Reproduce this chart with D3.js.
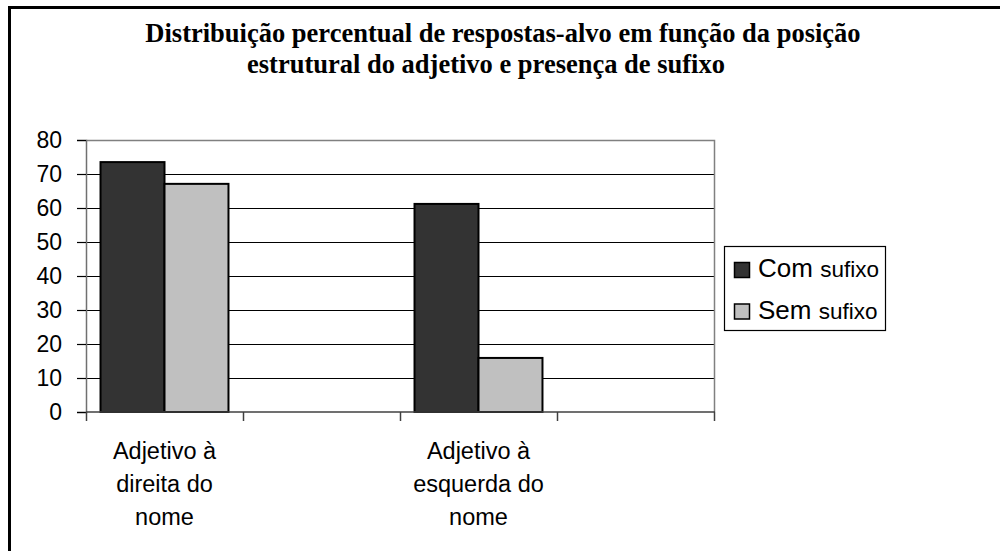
<!DOCTYPE html>
<html>
<head>
<meta charset="utf-8">
<script src="https://cdn.jsdelivr.net/npm/d3@7"></script>
<style>
  html, body { margin: 0; padding: 0; background: #fff; }
  svg { display: block; }
</style>
</head>
<body>
<svg id="chart" width="1000" height="551"></svg>
<script>
// ---- data ----
const titleLines = ["Distribuição percentual de respostas-alvo em função da posição",
                    "estrutural do adjetivo e presença de sufixo"];
const categoryLabels = [["Adjetivo à", "direita do", "nome"], [], ["Adjetivo à", "esquerda do", "nome"], []];
const seriesNames = ["Com", "Sem"];
const seriesSuffix = "sufixo";
const comSufixo = [73.5, null, 61.2, null];
const semSufixo = [67.1, null, 15.9, null];
const yTicks = [0, 10, 20, 30, 40, 50, 60, 70, 80];

const colors = ["#333333", "#c0c0c0"];
const seriesValues = [comSufixo, semSufixo];

const svg = d3.select("#chart");

// outer chart border (extends past the viewport on right/bottom)
svg.append("rect")
  .attr("x", 9.5).attr("y", 7.5)
  .attr("width", 1100).attr("height", 700)
  .attr("fill", "none").attr("stroke", "#000").attr("stroke-width", 3);

// title
const titleX = [503, 486];
svg.selectAll("text.title").data(titleLines).join("text")
  .attr("class", "title")
  .attr("x", (d, i) => titleX[i])
  .attr("y", (d, i) => 42 + i * 31)
  .attr("text-anchor", "middle")
  .attr("font-family", "'Liberation Serif', 'Times New Roman', serif")
  .attr("font-weight", "bold")
  .attr("font-size", 26.5)
  .text(d => d);

// plot geometry
const plot = { left: 86, right: 714, top: 140, bottom: 412 };

const x0 = d3.scaleBand().domain(d3.range(categoryLabels.length))
  .range([plot.left, plot.right]).paddingInner(0).paddingOuter(0);
const x1 = d3.scaleBand().domain(d3.range(seriesNames.length))
  .range([0, x0.bandwidth()]).paddingInner(0).paddingOuter(0.227);
const y = d3.scaleLinear().domain([0, 80]).range([plot.bottom, plot.top]);

// gridlines
svg.append("g").selectAll("line").data(yTicks.filter(t => t > 0 && t < 80)).join("line")
  .attr("x1", plot.left).attr("x2", plot.right)
  .attr("y1", d => y(d) + 0.5).attr("y2", d => y(d) + 0.5)
  .attr("stroke", "#000").attr("stroke-width", 1.2);

// plot area border (top & right)
svg.append("path")
  .attr("d", `M${plot.left},${plot.top + 0.5}H${plot.right + 0.5}V${plot.bottom}`)
  .attr("fill", "none").attr("stroke", "#808080").attr("stroke-width", 1.5);

// bars
const barG = svg.append("g");
seriesValues.forEach((vals, si) => {
  barG.selectAll(null).data(vals.map((v, ci) => ({ v, ci })).filter(d => d.v != null)).join("rect")
    .attr("x", d => x0(d.ci) + x1(si))
    .attr("y", d => y(d.v))
    .attr("width", x1.bandwidth())
    .attr("height", d => y(0) - y(d.v))
    .attr("fill", colors[si])
    .attr("stroke", "#000").attr("stroke-width", 2);
});

// y axis
const yAxis = svg.append("g")
  .attr("transform", `translate(${plot.left},0)`)
  .call(d3.axisLeft(y).tickValues(yTicks).tickSize(9).tickPadding(15).tickFormat(d3.format("d")));
yAxis.select(".domain").attr("stroke", "#707070").attr("stroke-width", 1.5);
yAxis.selectAll(".tick line").attr("stroke", "#000").attr("stroke-width", 1.2);
yAxis.selectAll(".tick text")
  .attr("font-family", "'Liberation Sans', Arial, sans-serif")
  .attr("font-size", 23).attr("fill", "#000");

// x axis
const xAxisG = svg.append("g").attr("transform", `translate(0,${plot.bottom})`);
xAxisG.append("line")
  .attr("x1", plot.left).attr("x2", plot.right + 1)
  .attr("stroke", "#404040").attr("stroke-width", 1.5);
const xTickPos = d3.range(categoryLabels.length).map(i => x0(i)).concat([x0(categoryLabels.length - 1) + x0.bandwidth()]);
xAxisG.selectAll("line.tk").data(xTickPos).join("line")
  .attr("class", "tk")
  .attr("x1", d => d + 0.5).attr("x2", d => d + 0.5)
  .attr("y1", 0).attr("y2", 9)
  .attr("stroke", "#404040").attr("stroke-width", 1.5);

// category labels
const catG = svg.append("g");
categoryLabels.forEach((lines, ci) => {
  const t = catG.append("text")
    .attr("x", x0(ci) + x0.bandwidth() / 2)
    .attr("y", 459)
    .attr("text-anchor", "middle")
    .attr("font-family", "'Liberation Sans', Arial, sans-serif")
    .attr("font-size", 23.5);
  lines.forEach((ln, li) => {
    t.append("tspan").attr("x", x0(ci) + x0.bandwidth() / 2)
      .attr("dy", li === 0 ? 0 : 33).text(ln);
  });
});

// legend
const lg = svg.append("g");
lg.append("rect").attr("x", 724.5).attr("y", 246.5).attr("width", 161).attr("height", 84)
  .attr("fill", "#fff").attr("stroke", "#000").attr("stroke-width", 1.2);
seriesNames.forEach((name, i) => {
  const yy = 262 + i * 41.5;
  lg.append("rect").attr("x", 734.5).attr("y", yy + 0.5).attr("width", 15).attr("height", 15)
    .attr("fill", colors[i]).attr("stroke", "#000").attr("stroke-width", 1.5);
  const t = lg.append("text").attr("x", 758).attr("y", yy + 15)
    .attr("font-family", "'Liberation Sans', Arial, sans-serif").attr("fill", "#000");
  t.append("tspan").attr("font-size", 26).text(name + " ");
  t.append("tspan").attr("font-size", 22.5).text(seriesSuffix);
});
</script>
</body>
</html>
